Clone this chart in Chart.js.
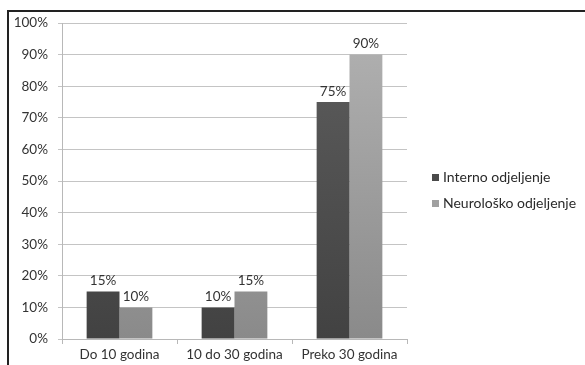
<!DOCTYPE html>
<html>
<head>
<meta charset="utf-8">
<script src="https://cdn.jsdelivr.net/npm/chart.js@4/dist/chart.umd.min.js"></script>
<style>
    body {
        margin: 0;
        background: #fff;
        font-family: Lato, sans-serif;
    }
    #wrap {
        position: relative;
        width: 585px;
        height: 365px;
        overflow: hidden;
    }
    #frame {
        position: absolute;
        left: 7px;
        top: 10px;
        right: -5px;
        bottom: -5px;
        border-left: 2px solid #222;
        border-top: 2px solid #222;
        pointer-events: none;
    }
    #legend {
        position: absolute;
        left: 432px;
        top: 169px;
        font-size: 14px;
        color: #2a2a2a;
    }
    #legend div {
        height: 26px;
        line-height: 15px;
        white-space: nowrap;
    }
    #legend span {
        display: inline-block;
        width: 7px;
        height: 7px;
        margin-right: 4px;
        vertical-align: 1px;
    }
</style>
</head>
<body>
<div id="wrap">
    <canvas id="chart" width="585" height="365"></canvas>
    <div id="frame"></div>
    <div id="legend"></div>
</div>
<script>
const categories = ['Do 10 godina', '10 do 30 godina', 'Preko 30 godina'];
const seriesNames = ['Interno odjeljenje', 'Neurološko odjeljenje'];
const internoValues = [15, 10, 75];
const neuroloskoValues = [10, 15, 90];
const yTicks = [0, 10, 20, 30, 40, 50, 60, 70, 80, 90, 100];

const legendColors = ['#4a4a4a', '#a0a0a0'];

function barGradient(top, bottom) {
    return (context) => {
        const area = context.chart.chartArea;
        if (!area) return bottom;
        const g = context.chart.ctx.createLinearGradient(0, area.top, 0, area.bottom);
        g.addColorStop(0, top);
        g.addColorStop(1, bottom);
        return g;
    };
}

// value labels above each bar
const valueLabels = {
    id: 'valueLabels',
    afterDatasetsDraw(chart) {
        const ctx = chart.ctx;
        ctx.save();
        ctx.font = '13.5px Lato, sans-serif';
        ctx.fillStyle = '#333';
        ctx.textAlign = 'center';
        ctx.textBaseline = 'bottom';
        chart.data.datasets.forEach((ds, i) => {
            chart.getDatasetMeta(i).data.forEach((bar, j) => {
                ctx.fillText(ds.data[j] + '%', bar.x, bar.y - 4);
            });
        });
        ctx.restore();
    }
};

const chart = new Chart(document.getElementById('chart'), {
    type: 'bar',
    data: {
        labels: categories,
        datasets: [{
            label: seriesNames[0],
            data: internoValues,
            backgroundColor: barGradient('#5e5e5e', '#424242'),
            borderWidth: 0
        }, {
            label: seriesNames[1],
            data: neuroloskoValues,
            backgroundColor: barGradient('#b2b2b2', '#8a8a8a'),
            borderWidth: 0
        }]
    },
    options: {
        responsive: false,
        animation: false,
        layout: {
            padding: { left: 0, top: 23, right: 178, bottom: 0 }
        },
        plugins: {
            legend: { display: false },
            tooltip: { enabled: false }
        },
        datasets: {
            bar: {
                categoryPercentage: 2 / 3.5,
                barPercentage: 1
            }
        },
        scales: {
            x: {
                grid: {
                    offset: true,
                    drawOnChartArea: false,
                    color: '#b8b8b8',
                    tickLength: 5
                },
                border: { color: '#b8b8b8' },
                ticks: {
                    padding: 3,
                    color: '#333',
                    font: { family: 'Lato', size: 13.5 }
                },
                afterFit(scale) { scale.height = 26; }
            },
            y: {
                min: 0,
                max: 100,
                afterBuildTicks(scale) {
                    scale.ticks = yTicks.map(v => ({ value: v }));
                },
                grid: {
                    color: '#c4c4c4',
                    tickLength: 4
                },
                border: { color: '#b8b8b8' },
                ticks: {
                    padding: 10,
                    color: '#333',
                    font: { family: 'Lato', size: 13.5 },
                    callback: v => v + '%'
                },
                afterFit(scale) { scale.width = 62; }
            }
        }
    },
    plugins: [valueLabels]
});

const legendEl = document.getElementById('legend');
seriesNames.forEach((name, i) => {
    const row = document.createElement('div');
    row.innerHTML = '<span style="background:' + legendColors[i] + '"></span>' + name;
    legendEl.appendChild(row);
});
</script>
</body>
</html>
